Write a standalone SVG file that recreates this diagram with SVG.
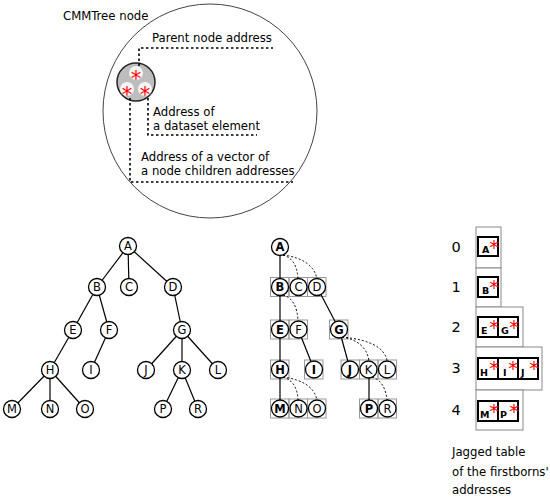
<svg xmlns="http://www.w3.org/2000/svg" width="550" height="502" viewBox="0 0 550 502">
<defs>
<style>
.t{font-family:"DejaVu Sans Condensed","DejaVu Sans",sans-serif;font-size:13px;fill:#000}
.n circle{fill:#fff;stroke:#000;stroke-width:1.3}
.n text{font-family:"DejaVu Sans",sans-serif;font-size:11.5px;text-anchor:middle;fill:#000}
.b text{font-weight:bold}
.edge{stroke:#000;stroke-width:1.2;fill:none}
.dash{stroke:#000;stroke-width:1;fill:none;stroke-dasharray:2 2}
.dot{stroke:#000;stroke-width:1.6;fill:none;stroke-dasharray:2.5 2.5}
.cellbox{fill:none;stroke:#999;stroke-width:1}
.outer{fill:#fff;stroke:#888;stroke-width:1}
.cell{fill:#fff;stroke:#000;stroke-width:2}
.cl{font-family:"DejaVu Sans",sans-serif;font-size:9.5px;font-weight:bold;fill:#000}
.ast{font-family:"DejaVu Sans",sans-serif;font-size:21px;fill:#f00;text-anchor:middle}
.ast2{font-family:"DejaVu Sans",sans-serif;font-size:19px;fill:#f00;text-anchor:middle}
.rl{font-family:"DejaVu Sans",sans-serif;font-size:14.5px;fill:#000;text-anchor:middle}
</style>
</defs>
<rect width="550" height="502" fill="#fff"/>

<!-- CMMTree node -->
<g id="cmmtree-node">
<circle cx="210" cy="111" r="107" fill="#fff" stroke="#444" stroke-width="1"/>
<text class="t" x="63" y="20" font-size="14.5">CMMTree node</text>
<circle cx="136" cy="82" r="19" fill="#bdbdbd" stroke="#222" stroke-width="1.5"/>
<circle cx="136" cy="73" r="7" fill="#f4f4f4"/>
<circle cx="127" cy="89" r="7" fill="#f4f4f4"/>
<circle cx="145" cy="89" r="7" fill="#f4f4f4"/>
<text class="ast" x="136" y="86">*</text>
<text class="ast" x="127" y="102">*</text>
<text class="ast" x="145" y="102">*</text>
<path class="dot" d="M139 66 V48 H273"/>
<path class="dot" d="M148 98 V135 H257"/>
<path class="dot" d="M130 98 V182 H293"/>
<text class="t" x="152" y="42">Parent node address</text>
<text class="t" x="153" y="116">Address of</text>
<text class="t" x="153" y="130">a dataset element</text>
<text class="t" x="141" y="161">Address of a vector of</text>
<text class="t" x="141" y="175">a node children addresses</text>
</g>

<!-- Tree 1 connectors -->
<g id="tree1-connectors" class="edge">
<line x1="128" y1="246" x2="97" y2="287"/>
<line x1="128" y1="246" x2="129" y2="287"/>
<line x1="128" y1="246" x2="173" y2="287"/>
<line x1="97" y1="287" x2="73" y2="330"/>
<line x1="97" y1="287" x2="109" y2="330"/>
<line x1="173" y1="287" x2="182" y2="330"/>
<line x1="73" y1="330" x2="50" y2="370"/>
<line x1="109" y1="330" x2="91" y2="370"/>
<line x1="182" y1="330" x2="146" y2="370"/>
<line x1="182" y1="330" x2="182" y2="370"/>
<line x1="182" y1="330" x2="218" y2="370"/>
<line x1="50" y1="370" x2="12" y2="409"/>
<line x1="50" y1="370" x2="50" y2="409"/>
<line x1="50" y1="370" x2="85" y2="409"/>
<line x1="182" y1="370" x2="163" y2="409"/>
<line x1="182" y1="370" x2="198" y2="409"/>
</g>

<!-- Tree 1 nodes -->
<g id="t1-A" class="n"><circle cx="128" cy="246" r="8.5"/><text x="128" y="250">A</text></g>
<g id="t1-B" class="n"><circle cx="97" cy="287" r="8.5"/><text x="97" y="291">B</text></g>
<g id="t1-C" class="n"><circle cx="129" cy="287" r="8.5"/><text x="129" y="291">C</text></g>
<g id="t1-D" class="n"><circle cx="173" cy="287" r="8.5"/><text x="173" y="291">D</text></g>
<g id="t1-E" class="n"><circle cx="73" cy="330" r="8.5"/><text x="73" y="334">E</text></g>
<g id="t1-F" class="n"><circle cx="109" cy="330" r="8.5"/><text x="109" y="334">F</text></g>
<g id="t1-G" class="n"><circle cx="182" cy="330" r="8.5"/><text x="182" y="334">G</text></g>
<g id="t1-H" class="n"><circle cx="50" cy="370" r="8.5"/><text x="50" y="374">H</text></g>
<g id="t1-I" class="n"><circle cx="91" cy="370" r="8.5"/><text x="91" y="374">I</text></g>
<g id="t1-J" class="n"><circle cx="146" cy="370" r="8.5"/><text x="146" y="374">J</text></g>
<g id="t1-K" class="n"><circle cx="182" cy="370" r="8.5"/><text x="182" y="374">K</text></g>
<g id="t1-L" class="n"><circle cx="218" cy="370" r="8.5"/><text x="218" y="374">L</text></g>
<g id="t1-M" class="n"><circle cx="12" cy="409" r="8.5"/><text x="12" y="413">M</text></g>
<g id="t1-N" class="n"><circle cx="50" cy="409" r="8.5"/><text x="50" y="413">N</text></g>
<g id="t1-O" class="n"><circle cx="85" cy="409" r="8.5"/><text x="85" y="413">O</text></g>
<g id="t1-P" class="n"><circle cx="163" cy="409" r="8.5"/><text x="163" y="413">P</text></g>
<g id="t1-R" class="n"><circle cx="198" cy="409" r="8.5"/><text x="198" y="413">R</text></g>

<!-- Tree 2 child cell boxes -->
<g id="t2-cells">
<rect class="cellbox" x="270.5" y="277.5" width="18.5" height="19"/>
<rect class="cellbox" x="289" y="277.5" width="18.5" height="19"/>
<rect class="cellbox" x="307.5" y="277.5" width="18.5" height="19"/>
<rect class="cellbox" x="270.5" y="320" width="18.5" height="19"/>
<rect class="cellbox" x="289" y="320" width="18.5" height="19"/>
<rect class="cellbox" x="329.5" y="320" width="18.5" height="19"/>
<rect class="cellbox" x="270.5" y="360" width="18.5" height="19"/>
<rect class="cellbox" x="304.5" y="360" width="18.5" height="19"/>
<rect class="cellbox" x="341" y="360" width="18.5" height="19"/>
<rect class="cellbox" x="359.5" y="360" width="18.5" height="19"/>
<rect class="cellbox" x="378" y="360" width="18.5" height="19"/>
<rect class="cellbox" x="270.5" y="399" width="18.5" height="19"/>
<rect class="cellbox" x="289" y="399" width="18.5" height="19"/>
<rect class="cellbox" x="307.5" y="399" width="18.5" height="19"/>
<rect class="cellbox" x="359.5" y="399" width="18.5" height="19"/>
<rect class="cellbox" x="378" y="399" width="18.5" height="19"/>
</g>

<!-- Tree 2 connectors -->
<g id="tree2-connectors">
<g class="edge">
<line x1="280" y1="247" x2="280" y2="287"/>
<line x1="280" y1="287" x2="280" y2="329"/>
<line x1="280" y1="329" x2="280" y2="369"/>
<line x1="280" y1="369" x2="280" y2="408"/>
<line x1="317" y1="287" x2="339" y2="329"/>
<line x1="298" y1="329" x2="314" y2="369"/>
<line x1="339" y1="329" x2="350" y2="369"/>
<line x1="369" y1="369" x2="369" y2="408"/>
</g>
<g class="dash">
<path d="M283 255 Q297 259 298 279"/>
<path d="M283 255 Q313 259 317 279"/>
<path d="M283 295 Q297 299 298 321"/>
<path d="M342 337 Q366 341 369 361"/>
<path d="M342 337 Q384 341 387 361"/>
<path d="M283 377 Q297 381 298 400"/>
<path d="M283 377 Q313 381 317 400"/>
<path d="M372 377 Q385 381 387 400"/>
</g>
</g>

<!-- Tree 2 nodes -->
<g id="t2-A" class="n b"><circle cx="280" cy="247" r="8.5"/><text x="280" y="251">A</text></g>
<g id="t2-B" class="n b"><circle cx="280" cy="287" r="8.5"/><text x="280" y="291">B</text></g>
<g id="t2-C" class="n"><circle cx="298.5" cy="287" r="8.5"/><text x="298.5" y="291">C</text></g>
<g id="t2-D" class="n"><circle cx="317" cy="287" r="8.5"/><text x="317" y="291">D</text></g>
<g id="t2-E" class="n b"><circle cx="280" cy="329.5" r="8.5"/><text x="280" y="333.5">E</text></g>
<g id="t2-F" class="n"><circle cx="298.5" cy="329.5" r="8.5"/><text x="298.5" y="333.5">F</text></g>
<g id="t2-G" class="n b"><circle cx="339" cy="329.5" r="8.5"/><text x="339" y="333.5">G</text></g>
<g id="t2-H" class="n b"><circle cx="280" cy="369.5" r="8.5"/><text x="280" y="373.5">H</text></g>
<g id="t2-I" class="n b"><circle cx="314" cy="369.5" r="8.5"/><text x="314" y="373.5">I</text></g>
<g id="t2-J" class="n b"><circle cx="350" cy="369.5" r="8.5"/><text x="350" y="373.5">J</text></g>
<g id="t2-K" class="n"><circle cx="368.5" cy="369.5" r="8.5"/><text x="368.5" y="373.5">K</text></g>
<g id="t2-L" class="n"><circle cx="387" cy="369.5" r="8.5"/><text x="387" y="373.5">L</text></g>
<g id="t2-M" class="n b"><circle cx="280" cy="408.5" r="8.5"/><text x="280" y="412.5">M</text></g>
<g id="t2-N" class="n"><circle cx="298.5" cy="408.5" r="8.5"/><text x="298.5" y="412.5">N</text></g>
<g id="t2-O" class="n"><circle cx="317" cy="408.5" r="8.5"/><text x="317" y="412.5">O</text></g>
<g id="t2-P" class="n b"><circle cx="369" cy="408.5" r="8.5"/><text x="369" y="412.5">P</text></g>
<g id="t2-R" class="n"><circle cx="387.5" cy="408.5" r="8.5"/><text x="387.5" y="412.5">R</text></g>

<!-- Jagged table -->
<g id="jagged-table">
<rect class="outer" x="476" y="227" width="25" height="41"/>
<rect class="outer" x="476" y="268" width="25" height="39"/>
<rect class="outer" x="476" y="307" width="47" height="40"/>
<rect class="outer" x="476" y="347" width="66" height="43"/>
<rect class="outer" x="476" y="390" width="47" height="40"/>

<rect class="cell" x="478" y="237" width="20" height="19"/>
<rect class="cell" x="478" y="277" width="20" height="20"/>
<rect class="cell" x="478" y="317" width="20" height="20"/>
<rect class="cell" x="498" y="317" width="20" height="20"/>
<rect class="cell" x="478" y="358" width="20" height="21"/>
<rect class="cell" x="498" y="358" width="20" height="21"/>
<rect class="cell" x="518" y="358" width="20" height="21"/>
<rect class="cell" x="478" y="401" width="20" height="20"/>
<rect class="cell" x="498" y="401" width="20" height="20"/>

<text class="cl" x="482" y="253">A</text><text class="ast2" x="494" y="254">*</text>
<text class="cl" x="482" y="294">B</text><text class="ast2" x="494" y="294">*</text>
<text class="cl" x="481" y="334">E</text><text class="ast2" x="494" y="334">*</text>
<text class="cl" x="501" y="334">G</text><text class="ast2" x="514" y="334">*</text>
<text class="cl" x="480" y="376">H</text><text class="ast2" x="494" y="375">*</text>
<text class="cl" x="503" y="376">I</text><text class="ast2" x="513" y="375">*</text>
<text class="cl" x="521" y="376">J</text><text class="ast2" x="534" y="375">*</text>
<text class="cl" x="480" y="418">M</text><text class="ast2" x="494" y="418">*</text>
<text class="cl" x="500" y="418">P</text><text class="ast2" x="514" y="418">*</text>

<text class="rl" x="456" y="252">0</text>
<text class="rl" x="456" y="292">1</text>
<text class="rl" x="456" y="332">2</text>
<text class="rl" x="456" y="373">3</text>
<text class="rl" x="456" y="415">4</text>

<text class="t" x="452" y="456">Jagged table</text>
<text class="t" x="452" y="476">of the firstborns'</text>
<text class="t" x="452" y="494">addresses</text>
</g>
</svg>
